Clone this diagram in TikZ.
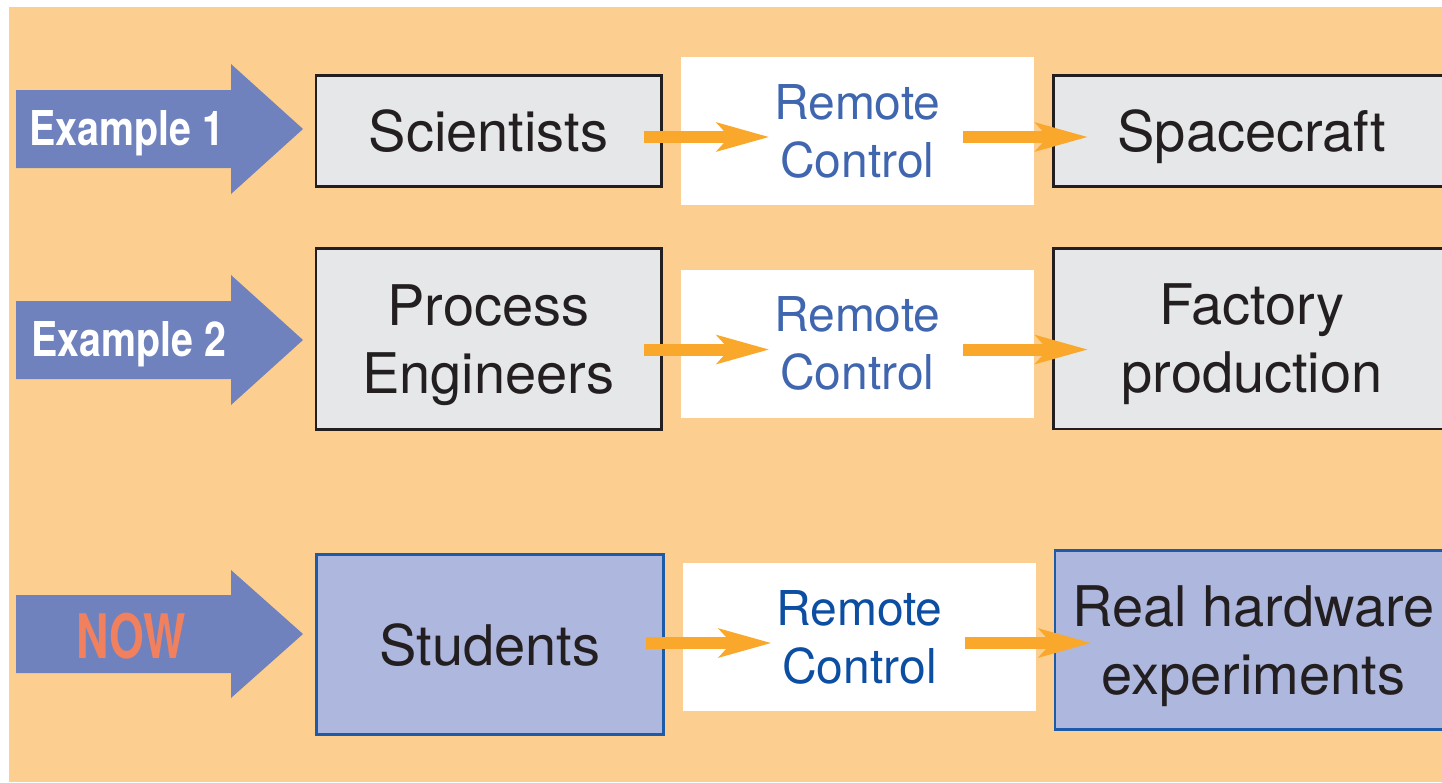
\documentclass[tikz,border=0pt]{standalone}
\usepackage{fontspec}
\setmainfont{TeX Gyre Heros}
\newfontfamily\condfont[FakeStretch=0.82]{TeX Gyre Heros}
\newfontfamily\nowfont[FakeStretch=0.73]{TeX Gyre Heros}
\usepackage{tikz}
\usetikzlibrary{arrows.meta}
\usetikzlibrary{calc,positioning}

\definecolor{peach}{HTML}{FCCF90}
\definecolor{arrowC}{HTML}{7082BE}
\definecolor{greyC}{HTML}{E6E7E8}
\definecolor{inkC}{HTML}{231F20}
\definecolor{lavC}{HTML}{AEB7DE}
\definecolor{navyC}{HTML}{1D5AA7}
\definecolor{orangeC}{HTML}{F9A82B}
\definecolor{remC}{HTML}{4066B0}
\definecolor{remdarkC}{HTML}{0C4EA2}
\definecolor{nowC}{HTML}{F0805E}

\begin{document}
\begin{tikzpicture}[x=0.75pt, y=-0.75pt,
    actor/.style={rectangle, draw=inkC, line width=2pt, fill=greyC, inner sep=0pt,
    align=center, text=inkC, text depth=0pt, minimum width=259pt, font=\fontsize{42}{51}\selectfont},
    target/.style={actor, minimum width=298pt},
    remote/.style={rectangle, fill=white, inner sep=0pt, align=center, text=remC,
    minimum width=264.75pt, minimum height=111pt, font=\fontsize{36}{43.5}\selectfont},
    now/.style={fill=lavC, draw=navyC},
    flow/.style={draw=orangeC, line width=9pt, -{Stealth[length=39pt,width=21pt,inset=9pt]}},
    bigarrow/.style={fill=arrowC},
    tag/.style={text=white, font=\condfont\bfseries\fontsize{36}{40}\selectfont}]

    \useasboundingbox (0,0) rectangle (1442,782);
    \clip (0,0) rectangle (1442,782);
    \fill[peach] (9,7) rectangle (1442,782);

    % Example 1
    \fill[bigarrow] (16,90) -- (231,90) -- (231,64) -- (303,129) -- (231,194) -- (231,168) -- (16,168) -- cycle;
    \node[tag] (ex1) at (127,133) {Example 1};
    \node[actor, minimum height=83.5pt] (sci) at (488.5,131) {Scientists};
    \node[remote, right=13.5pt of sci] (rc1) {Remote\\Control};
    \node[target, minimum height=83.5pt, right=13.5pt of rc1] (space) {Spacecraft};
    \draw[flow] ($(sci.east |- rc1.center)+(-19,6)$) -- ($(rc1.west)+(89,6)$);
    \draw[flow] ($(rc1.east)+(-71,6)$) -- ($(rc1.east -| space.west)+(36,6)$);

    % Example 2
    \fill[bigarrow] (16,301) -- (231,301) -- (231,275) -- (303,340) -- (231,405) -- (231,379) -- (16,379) -- cycle;
    \node[tag] (ex2) at (129,344) {Example 2};
    \node[actor, minimum height=136pt] (pe) at (488.5,339) {Process\\Engineers};
    \node[remote, right=13.5pt of pe, yshift=-3.4pt] (rc2) {Remote\\Control};
    \node[target, minimum height=135.5pt, right=13.5pt of rc2, yshift=3.75pt] (fac) {Factory\\production};
    \draw[flow] ($(pe.east |- rc2.center)+(-19,6)$) -- ($(rc2.west)+(89,6)$);
    \draw[flow] ($(rc2.east)+(-71,6)$) -- ($(rc2.east -| fac.west)+(36,6)$);

    % NOW
    \fill[bigarrow] (16,595) -- (231,595) -- (231,570) -- (303,634) -- (231,698) -- (231,673) -- (16,673) -- cycle;
    \node[tag, text=nowC, font=\nowfont\bfseries\fontsize{46}{50}\selectfont] (nowlbl) at (131,636) {NOW};
    \node[actor, now, minimum width=260pt, minimum height=135pt] (stud) at (490,644.5) {Students};
    \node[remote, text=remdarkC, right=13.5pt of stud, yshift=5.6pt] (rc3) {Remote\\Control};
    \node[target, now, minimum height=134.5pt, right=13pt of rc3, yshift=-2.25pt] (real) {Real hardware\\experiments};
    \draw[flow] ($(stud.east |- rc3.center)+(-19,6)$) -- ($(rc3.west)+(89,6)$);
    \draw[flow] ($(rc3.east)+(-71,6)$) -- ($(rc3.east -| real.west)+(38,6)$);
\end{tikzpicture}
\end{document}
